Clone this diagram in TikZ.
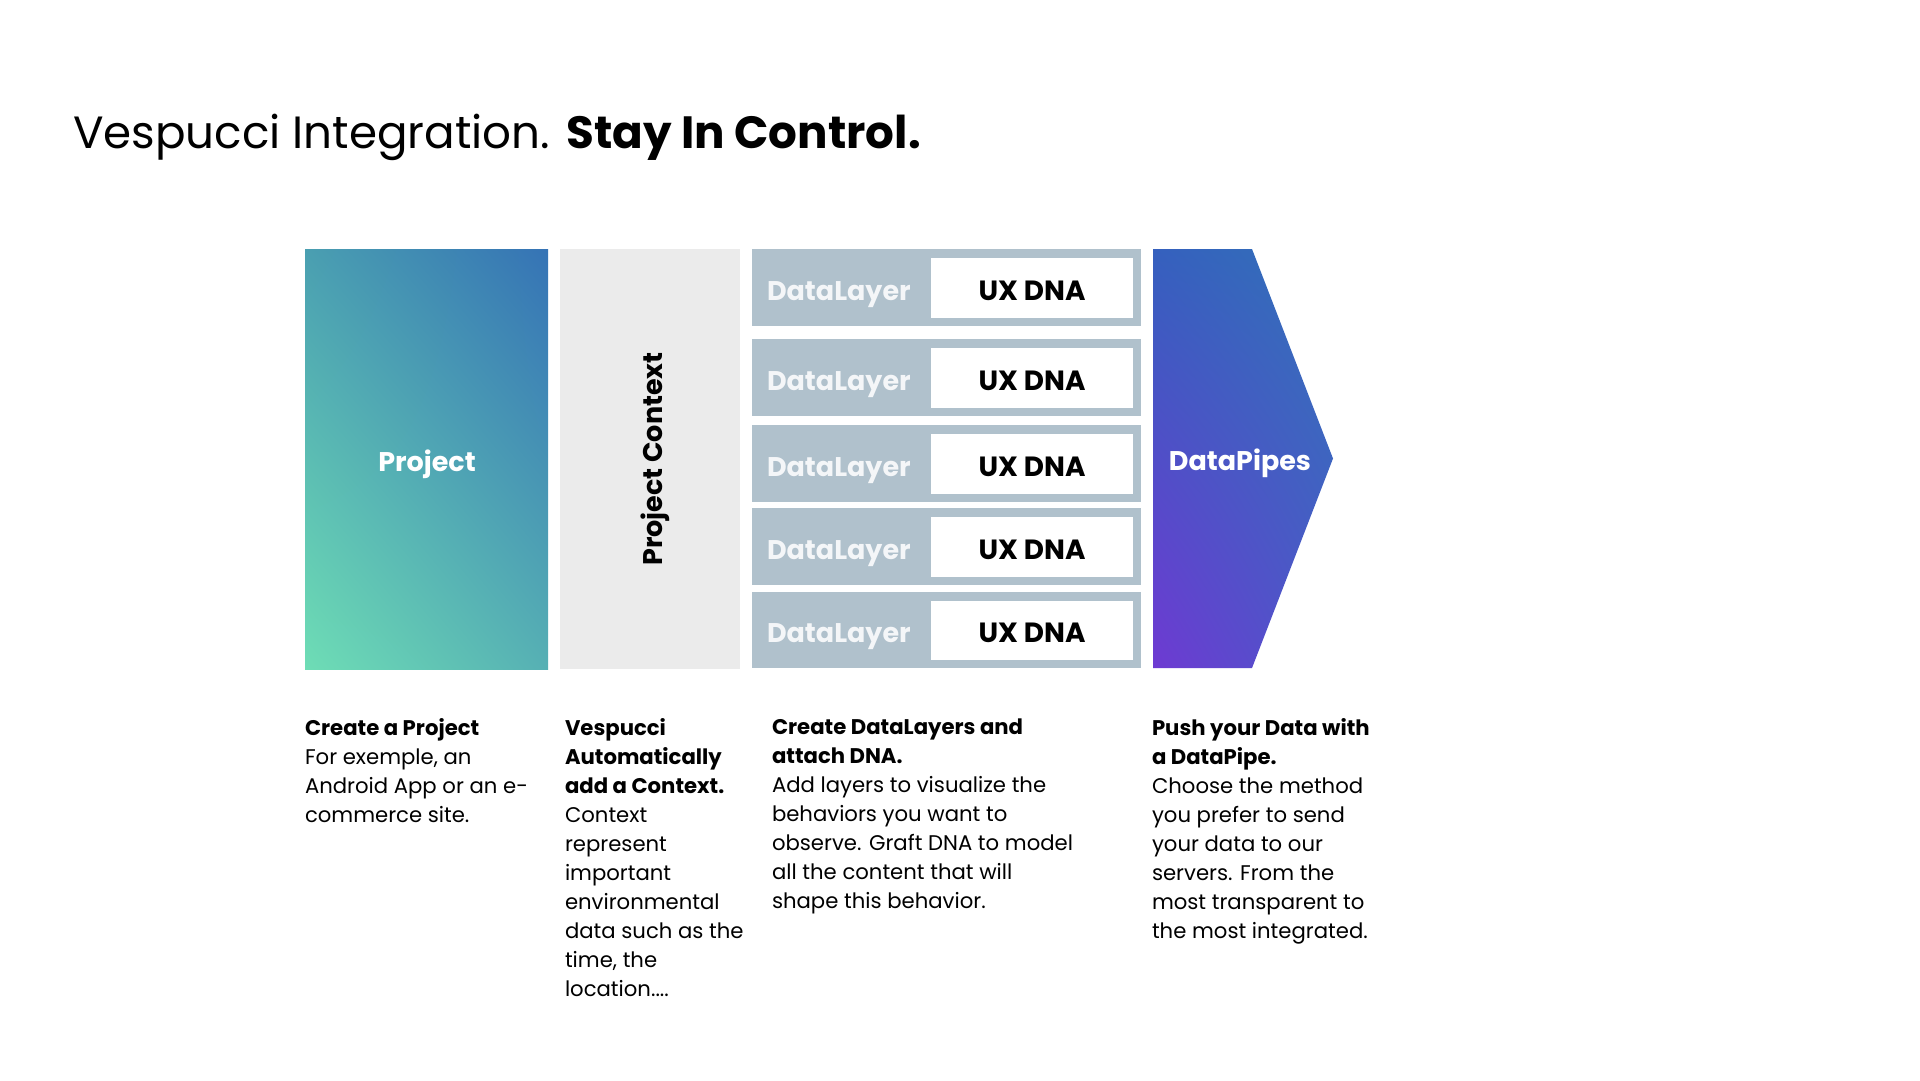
\documentclass[tikz,border=0pt]{standalone}
\usepackage{fontspec}
\setmainfont{Poppins}
\usetikzlibrary{shadings}
\definecolor{ctxgray}{HTML}{EBEBEB}
\definecolor{dlgray}{HTML}{B0C1CC}
\definecolor{dltext}{HTML}{F4F6F8}
\definecolor{pjLL}{HTML}{6EDDB5}
\definecolor{pjUR}{HTML}{3573B5}
\definecolor{pjUL}{HTML}{4A9FB1}
\definecolor{pjLR}{HTML}{56B0B4}
\definecolor{dpLL}{HTML}{6E3AD2}
\definecolor{dpUR}{HTML}{3272B8}
\definecolor{dpUL}{HTML}{3560BE}
\definecolor{dpLR}{HTML}{4A58C8}
\tikzset{
  every node/.style={inner sep=0pt, outer sep=0pt},
  boxlab/.style={font=\fontsize{27}{30}\selectfont\bfseries},
  dlrow/.style={fill=dlgray, anchor=north west, minimum width=389pt},
  dnabox/.style={fill=white, anchor=north east, minimum width=202pt},
  dllab/.style={anchor=base west, text=dltext, font=\fontsize{27}{30}\selectfont\bfseries},
  dnalab/.style={anchor=base, text=black, font=\fontsize{27.8}{30}\selectfont\bfseries},
  desc/.style={anchor=north west, align=left, font=\fontsize{21.2}{29}\selectfont},
}
\begin{document}
\begin{tikzpicture}[x=1pt,y=-1pt]
\fill[white] (0,0) rectangle (1920,1080);
\useasboundingbox (0,0) rectangle (1920,1080);

% title
\node[anchor=base west, font=\fontsize{45.2}{50}\selectfont] (title) at (73,148)
  {Vespucci Integration. \textbf{Stay In Control.}};

% project
\node[anchor=north west, minimum width=243pt, minimum height=420pt,
  lower left=pjLL, upper right=pjUR, upper left=pjUL, lower right=pjLR] (proj) at (305,249) {};
\node[boxlab, text=white, anchor=base] (projlab) at (427,471) {Project};

% context
\node[fill=ctxgray, anchor=north west, minimum width=180pt, minimum height=420pt] (ctx) at (560,249) {};
\node[boxlab, rotate=90, anchor=base] (ctxlab) at (662,459) {Project Context};

% data layers
\foreach \i/\t/\b in {1/249/326, 2/339/416, 3/425/502, 4/508/585, 5/592/668}{
  \pgfmathsetmacro{\h}{\b-\t}
  \pgfmathsetmacro{\hh}{\b-\t-17}
  \pgfmathsetmacro{\c}{(\b+\t)/2+12.5}
  \node[dlrow, minimum height=\h pt] (dl\i) at (752,\t) {};
  \node[dnabox, minimum height=\hh pt] (dna\i) at (1133,\t+9) {};
  \node[dnalab] (dnalab\i) at (1032,\c) {UX DNA};
  \node[dllab] (dllab\i) at (767,\c) {DataLayer};
}

% datapipes arrow
\coordinate (dpA) at (1153,249);
\coordinate (dpB) at (1252,249);
\coordinate (dpC) at (1333,458.5);
\coordinate (dpD) at (1252,668);
\coordinate (dpE) at (1153,668);
\shade[lower left=dpLL, upper right=dpUR, upper left=dpUL, lower right=dpLR]
  (dpA) -- (dpB) -- (dpC) -- (dpD) -- (dpE) -- cycle;
\node[boxlab, text=white, anchor=base] (dp) at (1240,470) {DataPipes};

% descriptions
\node[desc] (d1) at (305,719) {\textbf{Create a Project}\\For exemple, an\\Android App or an e-\\commerce site.};
\node[desc] (d2) at (565,719) {\textbf{Vespucci}\\\textbf{Automatically}\\\textbf{add a Context.}\\Context\\represent\\important\\environmental\\data such as the\\time, the\\location....};
\node[desc] (d3) at (772,719) {\textbf{Create DataLayers and}\\\textbf{attach DNA.}\\Add layers to visualize the\\behaviors you want to\\observe. Graft DNA to model\\all the content that will\\shape this behavior.};
\node[desc] (d4) at (1152,719) {\textbf{Push your Data with}\\\textbf{a DataPipe.}\\Choose the method\\you prefer to send\\your data to our\\servers. From the\\most transparent to\\the most integrated.};
\end{tikzpicture}
\end{document}
